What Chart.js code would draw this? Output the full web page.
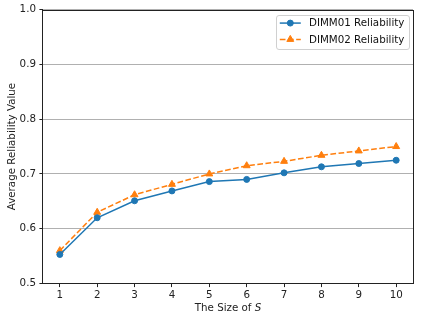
<!DOCTYPE html>
<html><head><meta charset="utf-8">
<script src="https://cdn.jsdelivr.net/npm/chart.js@4"></script>
<style>html,body{margin:0;padding:0;background:#fff}canvas{display:block}</style>
</head><body>
<canvas id="c" width="423" height="323"></canvas>
<script>
const sizes = [1, 2, 3, 4, 5, 6, 7, 8, 9, 10];
const dimm01 = [0.553, 0.620, 0.651, 0.669, 0.686, 0.690, 0.702, 0.713, 0.719, 0.725];
const dimm02 = [0.560, 0.630, 0.662, 0.681, 0.700, 0.715, 0.723, 0.734, 0.742, 0.750];
const yTicks = [0.5, 0.6, 0.7, 0.8, 0.9, 1.0];
const seriesLabels = ['DIMM01 Reliability', 'DIMM02 Reliability'];
const xTitleMain = 'The Size of ';
const xTitleItalic = 'S';
const yTitle = 'Average Reliability Value';

const FONT = '"DejaVu Sans", sans-serif';
const FS = 10.3;
Chart.defaults.font.family = FONT;
Chart.defaults.font.size = FS;
Chart.defaults.color = '#222';

const frame = {
  id: 'frame',
  afterDraw(chart) {
    const ctx = chart.ctx, a = chart.chartArea;
    ctx.save();
    // spines
    ctx.strokeStyle = '#222';
    ctx.lineWidth = 1;
    ctx.strokeRect(Math.round(a.left) - 0.5, Math.round(a.top) + 0.5,
                   Math.round(a.right) - Math.round(a.left) + 1, Math.round(a.bottom) - Math.round(a.top) - 1);
    // x title with italic S
    ctx.fillStyle = '#222';
    ctx.textBaseline = 'middle';
    ctx.font = `${FS}px ${FONT}`;
    const w1 = ctx.measureText(xTitleMain).width;
    ctx.font = `italic ${FS}px ${FONT}`;
    const w2 = ctx.measureText(xTitleItalic).width;
    const cx = (a.left + a.right) / 2;
    const x0 = cx - (w1 + w2) / 2;
    ctx.font = `${FS}px ${FONT}`;
    ctx.textAlign = 'left';
    ctx.fillText(xTitleMain, x0, 308.5);
    ctx.font = `italic ${FS}px ${FONT}`;
    ctx.fillText(xTitleItalic, x0 + w1, 308.5);
    // legend
    ctx.font = `${FS}px ${FONT}`;
    const ds = chart.data.datasets;
    const tw = Math.max(...ds.map(d => ctx.measureText(d.label).width));
    const pad = 4.1, hl = 21, htp = 8.2, rowH = 16.3;
    const right = a.right - 4.5, top = a.top + 5.5;
    const w = pad + hl + htp + tw + pad;
    const h = 34;
    const left = right - w;
    ctx.beginPath();
    if (ctx.roundRect) ctx.roundRect(Math.round(left) + 0.5, Math.round(top) + 0.5, Math.round(w), h, 2.5);
    else ctx.rect(Math.round(left) + 0.5, Math.round(top) + 0.5, Math.round(w), h);
    ctx.fillStyle = 'rgba(255,255,255,0.8)';
    ctx.fill();
    ctx.strokeStyle = '#d0d0d0';
    ctx.lineWidth = 1;
    ctx.stroke();
    ds.forEach((d, i) => {
      const y = top + 8 + rowH * i;
      const hx0 = left + pad, hx1 = left + pad + hl;
      ctx.save();
      ctx.strokeStyle = d.borderColor;
      ctx.lineWidth = d.borderWidth;
      ctx.setLineDash(d.borderDash || []);
      ctx.beginPath();
      ctx.moveTo(hx0, y); ctx.lineTo(hx1, y);
      ctx.stroke();
      ctx.setLineDash([]);
      ctx.fillStyle = d.pointBackgroundColor;
      ctx.strokeStyle = d.pointBorderColor;
      ctx.lineWidth = d.pointBorderWidth;
      Chart.helpers.drawPoint(ctx, {pointStyle: d.pointStyle, rotation: 0, radius: d.pointRadius, borderWidth: d.pointBorderWidth}, (hx0 + hx1) / 2, y);
      ctx.restore();
      ctx.fillStyle = '#111';
      ctx.textAlign = 'left';
      ctx.textBaseline = 'middle';
      ctx.font = `${FS}px ${FONT}`;
      ctx.fillText(d.label, hx1 + htp, y + 0.5);
    });
    ctx.restore();
  }
};

new Chart(document.getElementById('c'), {
  type: 'line',
  data: {
    datasets: [
      {
        label: seriesLabels[0],
        data: sizes.map((s, i) => ({x: s, y: dimm01[i]})),
        borderColor: '#1f77b4', backgroundColor: '#1f77b4',
        pointBackgroundColor: '#1f77b4', pointBorderColor: '#1f77b4',
        borderWidth: 1.5, pointStyle: 'circle', pointRadius: 3, pointBorderWidth: 1,
        tension: 0, fill: false
      },
      {
        label: seriesLabels[1],
        data: sizes.map((s, i) => ({x: s, y: dimm02[i]})),
        borderColor: '#ff7f0e', backgroundColor: '#ff7f0e',
        pointBackgroundColor: '#ff7f0e', pointBorderColor: '#ff7f0e',
        borderWidth: 1.5, borderDash: [5.7, 2.5], pointStyle: 'triangle', pointRadius: 4, pointBorderWidth: 1,
        tension: 0, fill: false
      }
    ]
  },
  options: {
    responsive: false,
    animation: false,
    devicePixelRatio: 1,
    layout: {padding: {top: 7, right: 10, left: 0, bottom: 0}},
    plugins: {legend: {display: false}, tooltip: {enabled: false}},
    scales: {
      x: {
        type: 'linear', min: 0.55, max: 10.45,
        afterBuildTicks: s => { s.ticks = sizes.map(v => ({value: v})); },
        afterFit: s => { s.height = 39.5; },
        grid: {drawOnChartArea: false, drawTicks: true, tickLength: 3.6, tickColor: '#222'},
        border: {display: false},
        ticks: {padding: 1.7, color: '#222', maxRotation: 0, callback: v => String(v)},
        title: {display: false}
      },
      y: {
        type: 'linear', min: 0.5, max: 1.0,
        afterBuildTicks: s => { s.ticks = yTicks.map(v => ({value: v})); },
        afterFit: s => { s.width = 43; },
        grid: {color: '#b0b0b0', lineWidth: 1, drawTicks: true, tickLength: 3.6, tickColor: '#222'},
        border: {display: false},
        ticks: {padding: 3.4, color: '#222', callback: v => Number(v).toFixed(1)},
        title: {display: true, text: yTitle, color: '#222', padding: {top: 5.8, bottom: 0}, font: {size: FS}}
      }
    }
  },
  plugins: [frame]
});
</script>
</body></html>
